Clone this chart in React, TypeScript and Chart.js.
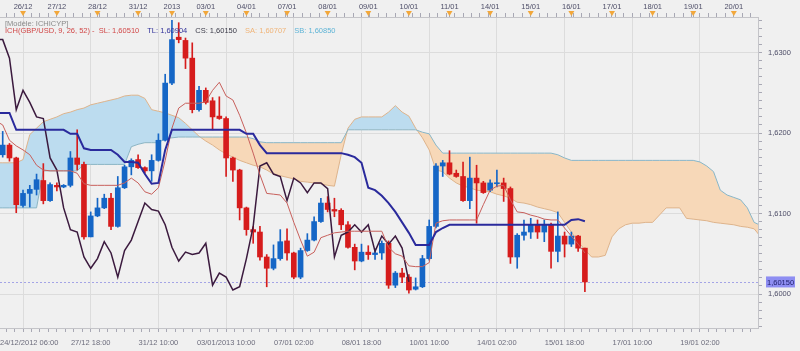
import React, { useEffect, useRef } from "react";
import { Chart, registerables } from "chart.js";

Chart.register(...registerables);

// ---------- data (4-hour candles, index = bar number) ----------
const CANDLE_START = -3;
const opens = [
  1.6173, 1.6185, 1.6169, 1.6110, 1.6125, 1.6130, 1.6141, 1.6116, 1.6135, 1.6133,
  1.6135, 1.6169, 1.6161, 1.6071, 1.6097, 1.6107, 1.6119, 1.6084, 1.6132, 1.6158,
  1.6167, 1.6157, 1.6153, 1.6166, 1.6191, 1.6262, 1.6319, 1.6315, 1.6293, 1.6229,
  1.6253, 1.6240, 1.6221, 1.6218, 1.6169, 1.6154, 1.6107, 1.6080, 1.6077, 1.6046,
  1.6032, 1.6044, 1.6066, 1.6051, 1.6021, 1.6054, 1.6067, 1.6090, 1.6113, 1.6105,
  1.6104, 1.6086, 1.6058, 1.6041, 1.6052, 1.6049, 1.6051, 1.6063, 1.6011, 1.6026,
  1.6021, 1.6006, 1.6009, 1.6044, 1.6084, 1.6159, 1.6163, 1.6150, 1.6146, 1.6116,
  1.6144, 1.6138, 1.6129, 1.6137, 1.6138, 1.6131, 1.6046, 1.6073, 1.6077, 1.6086,
  1.6077, 1.6086, 1.6053, 1.6072, 1.6062, 1.6072, 1.6057,
];
const highs = [
  1.6202, 1.6187, 1.6170, 1.6129, 1.6135, 1.6149, 1.6162, 1.6138, 1.6138, 1.6136,
  1.6177, 1.6204, 1.6164, 1.6102, 1.6119, 1.6124, 1.6125, 1.6146, 1.6160, 1.6168,
  1.6173, 1.6158, 1.6173, 1.6199, 1.6273, 1.6340, 1.6337, 1.6318, 1.6312, 1.6258,
  1.6256, 1.6244, 1.6245, 1.6220, 1.6170, 1.6155, 1.6108, 1.6084, 1.6084, 1.6049,
  1.6061, 1.6080, 1.6081, 1.6052, 1.6057, 1.6075, 1.6096, 1.6119, 1.6121, 1.6119,
  1.6106, 1.6090, 1.6062, 1.6062, 1.6060, 1.6056, 1.6066, 1.6066, 1.6028, 1.6032,
  1.6024, 1.6020, 1.6048, 1.6092, 1.6162, 1.6166, 1.6178, 1.6154, 1.6164, 1.6170,
  1.6160, 1.6140, 1.6142, 1.6154, 1.6144, 1.6133, 1.6075, 1.6092, 1.6094, 1.6092,
  1.6092, 1.6088, 1.6102, 1.6077, 1.6077, 1.6073, 1.6057,
];
const lows = [
  1.6170, 1.6165, 1.6101, 1.6108, 1.6108, 1.6123, 1.6112, 1.6115, 1.6128, 1.6132,
  1.6133, 1.6154, 1.6068, 1.6071, 1.6096, 1.6106, 1.6080, 1.6083, 1.6131, 1.6148,
  1.6156, 1.6150, 1.6140, 1.6165, 1.6190, 1.6260, 1.6312, 1.6280, 1.6225, 1.6227,
  1.6236, 1.6204, 1.6217, 1.6146, 1.6140, 1.6092, 1.6073, 1.6063, 1.6042, 1.6009,
  1.6030, 1.6042, 1.6042, 1.6019, 1.6019, 1.6053, 1.6066, 1.6089, 1.6102, 1.6096,
  1.6080, 1.6057, 1.6030, 1.6040, 1.6043, 1.6043, 1.6043, 1.6007, 1.6008, 1.6014,
  1.6001, 1.6005, 1.6008, 1.6042, 1.6082, 1.6146, 1.6148, 1.6145, 1.6115, 1.6106,
  1.6088, 1.6125, 1.6127, 1.6133, 1.6115, 1.6038, 1.6032, 1.6067, 1.6069, 1.6069,
  1.6065, 1.6032, 1.6040, 1.6046, 1.6059, 1.6053, 1.6003,
];
const closes = [
  1.6185, 1.6169, 1.6111, 1.6125, 1.6130, 1.6142, 1.6116, 1.6136, 1.6133, 1.6135,
  1.6169, 1.6161, 1.6071, 1.6097, 1.6107, 1.6119, 1.6084, 1.6132, 1.6158, 1.6166,
  1.6157, 1.6153, 1.6166, 1.6191, 1.6262, 1.6316, 1.6316, 1.6293, 1.6229, 1.6253,
  1.6238, 1.6220, 1.6218, 1.6169, 1.6154, 1.6107, 1.6080, 1.6077, 1.6046, 1.6032,
  1.6044, 1.6065, 1.6051, 1.6021, 1.6054, 1.6067, 1.6090, 1.6113, 1.6105, 1.6103,
  1.6086, 1.6058, 1.6041, 1.6052, 1.6049, 1.6051, 1.6063, 1.6011, 1.6026, 1.6021,
  1.6005, 1.6009, 1.6044, 1.6084, 1.6159, 1.6163, 1.6149, 1.6146, 1.6116, 1.6144,
  1.6138, 1.6126, 1.6138, 1.6138, 1.6131, 1.6046, 1.6073, 1.6077, 1.6086, 1.6077,
  1.6086, 1.6053, 1.6072, 1.6062, 1.6072, 1.6057, 1.6015,
];

// Ichimoku lines (start at bar -4)
const LINE_START = -4;
const tenkan = [
  1.6215, 1.6210, 1.6191, 1.6184, 1.6179, 1.6173, 1.6160, 1.6154, 1.6153, 1.6153,
  1.6153, 1.6153, 1.6150, 1.6137, 1.6135, 1.6135, 1.6135, 1.6135, 1.6135, 1.6138,
  1.6144, 1.6138, 1.6127, 1.6124, 1.6132, 1.6166, 1.6206, 1.6231, 1.6237, 1.6237,
  1.6237, 1.6239, 1.6253, 1.6263, 1.6246, 1.6241, 1.6222, 1.6200, 1.6175, 1.6148,
  1.6125, 1.6124, 1.6123, 1.6113, 1.6089, 1.6067, 1.6047, 1.6052, 1.6070, 1.6073,
  1.6076, 1.6077, 1.6078, 1.6078, 1.6078, 1.6078, 1.6078, 1.6078, 1.6058, 1.6050,
  1.6047, 1.6035, 1.6034, 1.6034, 1.6039, 1.6088, 1.6091, 1.6092, 1.6092, 1.6092,
  1.6092, 1.6092, 1.6111, 1.6129, 1.6134, 1.6135, 1.6117, 1.6102, 1.6101, 1.6098,
  1.6096, 1.6093, 1.6092, 1.6092, 1.6082, 1.6072, 1.6062, 1.6051,
];
const kijun = [
  1.6225, 1.6225, 1.6225, 1.6204, 1.6204, 1.6204, 1.6204, 1.6204, 1.6204, 1.6204,
  1.6204, 1.6199, 1.6199, 1.6181, 1.6179, 1.6179, 1.6179, 1.6179, 1.6173, 1.6164,
  1.6164, 1.6163, 1.6149, 1.6137, 1.6138, 1.6179, 1.6204, 1.6204, 1.6204, 1.6204,
  1.6204, 1.6204, 1.6204, 1.6204, 1.6204, 1.6204, 1.6204, 1.6199, 1.6199, 1.6185,
  1.6175, 1.6175, 1.6175, 1.6175, 1.6175, 1.6175, 1.6175, 1.6175, 1.6175, 1.6175,
  1.6175, 1.6175, 1.6173, 1.6170, 1.6163, 1.6132, 1.6129, 1.6122, 1.6113, 1.6102,
  1.6089, 1.6076, 1.6061, 1.6061, 1.6061, 1.6077, 1.6082, 1.6086, 1.6086, 1.6086,
  1.6086, 1.6086, 1.6086, 1.6086, 1.6086, 1.6086, 1.6086, 1.6086, 1.6086, 1.6086,
  1.6086, 1.6086, 1.6086, 1.6086, 1.6086, 1.6092, 1.6093, 1.60904,
];
const chikou = [
  1.6316, 1.6316, 1.6293, 1.6229, 1.6253, 1.6238, 1.6220, 1.6218, 1.6169, 1.6154,
  1.6107, 1.6080, 1.6077, 1.6046, 1.6032, 1.6044, 1.6065, 1.6051, 1.6021, 1.6054,
  1.6067, 1.6090, 1.6113, 1.6105, 1.6103, 1.6086, 1.6058, 1.6041, 1.6052, 1.6049,
  1.6051, 1.6063, 1.6011, 1.6026, 1.6021, 1.6005, 1.6009, 1.6044, 1.6084, 1.6159,
  1.6163, 1.6149, 1.6146, 1.6116, 1.6144, 1.6138, 1.6126, 1.6138, 1.6138, 1.6131,
  1.6046, 1.6073, 1.6077, 1.6086, 1.6077, 1.6086, 1.6053, 1.6072, 1.6062, 1.6072,
  1.6057, 1.6015,
];
const senkouA = [
  1.6163, 1.6163, 1.6163, 1.6163, 1.6167, 1.6198, 1.6206, 1.6214, 1.6217, 1.6220,
  1.6224, 1.6226, 1.6229, 1.6231, 1.6235, 1.6237, 1.6239, 1.6241, 1.6243, 1.6246,
  1.6247, 1.6247, 1.6243, 1.6229, 1.6227, 1.6225, 1.6222, 1.6219, 1.6212, 1.6204,
  1.6196, 1.6190, 1.6185, 1.6179, 1.6174, 1.6170, 1.6166, 1.6163, 1.6160, 1.6158,
  1.6154, 1.6149, 1.6147, 1.6145, 1.6143, 1.6140, 1.6139, 1.6138, 1.6137, 1.6135,
  1.6134, 1.6173, 1.6206, 1.6217, 1.6220, 1.6220, 1.6220, 1.6220, 1.6226, 1.6234,
  1.6226, 1.6221, 1.6206, 1.6194, 1.6179, 1.6154, 1.6152, 1.6144, 1.6138, 1.6134,
  1.6132, 1.6129, 1.6128, 1.6127, 1.6124, 1.6122, 1.6119, 1.6114, 1.6113, 1.6111,
  1.6108, 1.6106, 1.6104, 1.6101, 1.6089, 1.6077, 1.6065, 1.6055, 1.6046, 1.6046,
  1.6048, 1.6071, 1.6081, 1.6086, 1.6088, 1.6088, 1.6089, 1.6089, 1.6098, 1.6107,
  1.6107, 1.6107, 1.6094, 1.6093, 1.6092, 1.6091, 1.6089, 1.6088, 1.6087, 1.6086,
  1.6084, 1.6083, 1.6081, 1.60707,
];
const senkouB = [
  1.6107, 1.6107, 1.6107, 1.6107, 1.6107, 1.6107, 1.6107, 1.6153, 1.6153, 1.6153,
  1.6153, 1.6153, 1.6153, 1.6161, 1.6161, 1.6161, 1.6161, 1.6161, 1.6161, 1.6161,
  1.6183, 1.6186, 1.6188, 1.6188, 1.6188, 1.6193, 1.6194, 1.6195, 1.6195, 1.6195,
  1.6195, 1.6195, 1.6195, 1.6195, 1.6195, 1.6195, 1.6195, 1.6195, 1.6193, 1.6189,
  1.6188, 1.6188, 1.6188, 1.6188, 1.6188, 1.6188, 1.6188, 1.6188, 1.6188, 1.6188,
  1.6188, 1.6188, 1.6204, 1.6204, 1.6204, 1.6204, 1.6204, 1.6204, 1.6204, 1.6204,
  1.6204, 1.6204, 1.6204, 1.6201, 1.6199, 1.6185, 1.6175, 1.6175, 1.6175, 1.6175,
  1.6175, 1.6175, 1.6175, 1.6175, 1.6175, 1.6175, 1.6175, 1.6175, 1.6175, 1.6175,
  1.6175, 1.6175, 1.6175, 1.6173, 1.6169, 1.6166, 1.6166, 1.6166, 1.6166, 1.6166,
  1.6166, 1.6166, 1.6166, 1.6166, 1.6166, 1.6166, 1.6166, 1.6166, 1.6166, 1.6166,
  1.6166, 1.6166, 1.6166, 1.6166, 1.6164, 1.6159, 1.6152, 1.6129, 1.6123, 1.6120,
  1.6117, 1.6107, 1.6089, 1.6085,
];

// axis labels
const bottomTickIdx = [0, 10, 20, 30, 40, 50, 60, 70, 80, 90, 100];
const bottomLabels = [
  "24/12/2012 06:00", "27/12 18:00", "31/12 10:00", "03/01/2013 10:00", "07/01 02:00",
  "08/01 18:00", "10/01 10:00", "14/01 02:00", "15/01 18:00", "17/01 10:00", "19/01 02:00",
];
const topTickIdx = [0, 5, 11, 17, 22, 27, 33, 39, 45, 51, 57, 63, 69, 75, 81, 87, 93, 99, 105];
const topLabels = [
  "26/12", "27/12", "28/12", "31/12", "2013", "03/01", "04/01", "07/01", "08/01", "09/01",
  "10/01", "11/01", "14/01", "15/01", "16/01", "17/01", "18/01", "19/01", "20/01",
];

// ---------- styling ----------
const X_MIN = -3.4;
const X_MAX = 108.57;
const Y_MIN = 1.59578;
const Y_MAX = 1.63441;
const BULL = "#1566c6";
const BEAR = "#d61c1c";
const CLOUD_UP = "#bcdcef";
const CLOUD_DOWN = "#f7d8b8";
const GRID = "#dcdcdc";
const FRAME = "#c4c4c8";
const TICKC = "#a8a8b4";
const BG = "#f0f0f0";
const FONT = "'Liberation Sans', Arial, sans-serif";
const NONE = "rgba(0,0,0,0)";

const fmt = (v: number, d: number) => v.toFixed(d).replace(".", ",");

export default function App() {
  const ref = useRef<HTMLCanvasElement>(null);

  useEffect(() => {
    document.body.style.margin = "0";
    const canvas = ref.current as HTMLCanvasElement;
    Chart.defaults.font.family = FONT;

    const candleX = opens.map((_, k) => CANDLE_START + k);
    const colors = opens.map((o, k) => (closes[k] >= o ? BULL : BEAR));
    const wickData = candleX.map((x, k) => ({ x, y: [lows[k], highs[k]] }));
    const bodyData = candleX.map((x, k) => ({ x, y: [opens[k], closes[k]] }));
    const series = (arr: number[], start: number) => arr.map((v, k) => ({ x: start + k, y: v }));
    const lastClose = closes[closes.length - 1];

    const bgPlugin = {
      id: "bg",
      beforeDraw(chart: any) {
        const c = chart.ctx;
        c.save();
        c.fillStyle = BG;
        c.fillRect(0, 0, chart.width, chart.height);
        c.restore();
      },
    };

    const overlayPlugin = {
      id: "overlay",
      beforeDatasetsDraw(chart: any) {
        const c = chart.ctx;
        const a = chart.chartArea;
        const py = chart.scales.y.getPixelForValue(lastClose);
        c.save();
        c.strokeStyle = "#a4a4e6";
        c.lineWidth = 1;
        c.setLineDash([2, 2]);
        c.beginPath();
        c.moveTo(a.left, Math.round(py) + 0.5);
        c.lineTo(a.right, Math.round(py) + 0.5);
        c.stroke();
        c.restore();
      },
      afterDraw(chart: any) {
        const c = chart.ctx;
        const a = chart.chartArea;
        const xs = chart.scales.x;
        const ys = chart.scales.y;
        c.save();
        // triangles on the top axis
        c.fillStyle = "#f2a73a";
        topTickIdx.forEach((v) => {
          const px = chart.scales.x2.getPixelForValue(v);
          c.beginPath();
          c.moveTo(px - 3, a.top - 6);
          c.lineTo(px + 3, a.top - 6);
          c.lineTo(px, a.top - 1);
          c.closePath();
          c.fill();
        });
        // bottom labels
        c.font = `7.5px ${FONT}`;
        c.fillStyle = "#6c6c7c";
        c.textBaseline = "middle";
        c.textAlign = "left";
        bottomTickIdx.forEach((v, k) => {
          const px = xs.getPixelForValue(v);
          const w = c.measureText(bottomLabels[k]).width;
          const left = Math.max(0, px - w / 2);
          c.fillText(bottomLabels[k], left, a.bottom + 15);
        });
        // current price tag
        const py = ys.getPixelForValue(lastClose);
        c.fillStyle = "#8e8ef2";
        c.fillRect(a.right + 8, py - 5.5, 29, 11);
        c.fillStyle = "#1e1e6a";
        c.textAlign = "left";
        c.fillText(fmt(lastClose, 5), a.right + 9, py + 0.5);
        // legend
        c.font = `7.5px ${FONT}`;
        c.fillStyle = "#8a8a8a";
        c.fillText("[Modèle: ICHICYP]", 5, 23.5);
        const parts = [
          ["ICH(GBP/USD, 9, 26, 52) -  SL: " + fmt(tenkan[tenkan.length - 1], 5), "#d14848"],
          ["TL: " + fmt(kijun[kijun.length - 1], 5), "#33339a"],
          ["CS: " + fmt(lastClose, 5), "#3a3a48"],
          ["SA: " + fmt(senkouA[senkouA.length - 1], 5), "#f0b478"],
          ["SB: " + fmt(senkouB[senkouB.length - 1], 5), "#5fb4d6"],
        ];
        let x = 5;
        parts.forEach(([t, col]) => {
          c.fillStyle = col;
          c.fillText(t, x, 31);
          x += c.measureText(t).width + 8;
        });
        c.restore();
      },
    };

    const majorX = (v: number) => Math.abs(v / 10 - Math.round(v / 10)) < 1e-6;
    const majorY = (v: number) => Math.round(v * 1000) % 10 === 0;

    const chart = new Chart(canvas, {
      type: "bar",
      data: {
        datasets: [
          {
            type: "line",
            label: "SB",
            data: series(senkouB, LINE_START),
            borderColor: "#8ab6c6",
            borderWidth: 1,
            pointRadius: 0,
            fill: false,
            order: 9,
          } as any,
          {
            type: "line",
            label: "SA",
            data: series(senkouA, LINE_START),
            borderColor: "#deb48c",
            borderWidth: 1,
            pointRadius: 0,
            fill: { target: 0, above: CLOUD_UP, below: CLOUD_DOWN },
            order: 10,
          } as any,
          {
            type: "bar",
            label: "wick",
            data: wickData,
            backgroundColor: colors,
            barThickness: 1,
            grouped: false,
            borderWidth: 0,
            order: 5,
          } as any,
          {
            type: "bar",
            label: "body",
            data: bodyData,
            backgroundColor: colors,
            barThickness: 5,
            grouped: false,
            borderWidth: 0,
            minBarLength: 1,
            order: 4,
          } as any,
          {
            type: "line",
            label: "CS",
            data: series(chikou, LINE_START),
            borderColor: "#3b1a3e",
            borderWidth: 1.5,
            pointRadius: 0,
            fill: false,
            order: 2,
          } as any,
          {
            type: "line",
            label: "SL",
            data: series(tenkan, LINE_START),
            borderColor: "#c8605c",
            borderWidth: 1,
            pointRadius: 0,
            fill: false,
            order: 1,
          } as any,
          {
            type: "line",
            label: "TL",
            data: series(kijun, LINE_START),
            borderColor: "#2a2a9c",
            borderWidth: 2,
            pointRadius: 0,
            fill: false,
            order: 0,
          } as any,
        ],
      },
      options: {
        responsive: false,
        animation: false,
        devicePixelRatio: 1,
        layout: { padding: 0 },
        plugins: { legend: { display: false }, tooltip: { enabled: false } },
        scales: {
          x: {
            type: "linear",
            position: "bottom",
            min: X_MIN,
            max: X_MAX,
            offset: false,
            afterBuildTicks: (s: any) => {
              const t: any[] = [];
              for (let k = -2; k <= 86; k++) t.push({ value: k * 1.25 });
              s.ticks = t;
            },
            afterFit: (s: any) => {
              s.height = 23;
            },
            grid: {
              offset: false,
              color: (ctx: any) => (ctx.tick && majorX(ctx.tick.value) ? GRID : NONE),
              tickColor: TICKC,
              tickLength: 4,
            },
            border: { display: true, color: FRAME },
            ticks: { display: false, autoSkip: false },
          },
          x2: {
            type: "linear",
            position: "top",
            min: X_MIN,
            max: X_MAX,
            offset: false,
            afterBuildTicks: (s: any) => {
              const set = new Set<number>();
              for (let k = -2; k <= 86; k++) set.add(k * 1.25);
              topTickIdx.forEach((v) => set.add(v));
              s.ticks = Array.from(set)
                .sort((p, q) => p - q)
                .map((value) => ({ value }));
            },
            afterFit: (s: any) => {
              s.height = 17;
            },
            grid: { drawOnChartArea: false, tickColor: TICKC, tickLength: 4, offset: false },
            border: { display: true, color: FRAME },
            ticks: {
              autoSkip: false,
              maxRotation: 0,
              padding: 2,
              color: "#4e4e68",
              font: { size: 7.5 },
              callback: (v: any) => {
                const i = topTickIdx.indexOf(Number(v));
                return i >= 0 ? topLabels[i] : "";
              },
            },
          },
          y: {
            type: "linear",
            position: "right",
            min: Y_MIN,
            max: Y_MAX,
            afterBuildTicks: (s: any) => {
              const t: any[] = [];
              for (let k = 1596; k <= 1634; k++) t.push({ value: k / 1000 });
              s.ticks = t;
            },
            afterFit: (s: any) => {
              s.width = 42;
            },
            grid: {
              color: (ctx: any) => (ctx.tick && majorY(ctx.tick.value) ? GRID : NONE),
              tickColor: TICKC,
              tickLength: 4,
            },
            border: { display: true, color: FRAME },
            ticks: {
              autoSkip: false,
              padding: 6,
              color: "#4e4e68",
              font: { size: 7.5 },
              callback: (v: any) => (majorY(Number(v)) ? fmt(Number(v), 4) : ""),
            },
          },
        },
      } as any,
      plugins: [bgPlugin, overlayPlugin],
    });

    return () => chart.destroy();
  }, []);

  return (
    <div style={{ width: 800, height: 351 }}>
      <canvas ref={ref} width={800} height={351} style={{ display: "block" }} />
    </div>
  );
}
